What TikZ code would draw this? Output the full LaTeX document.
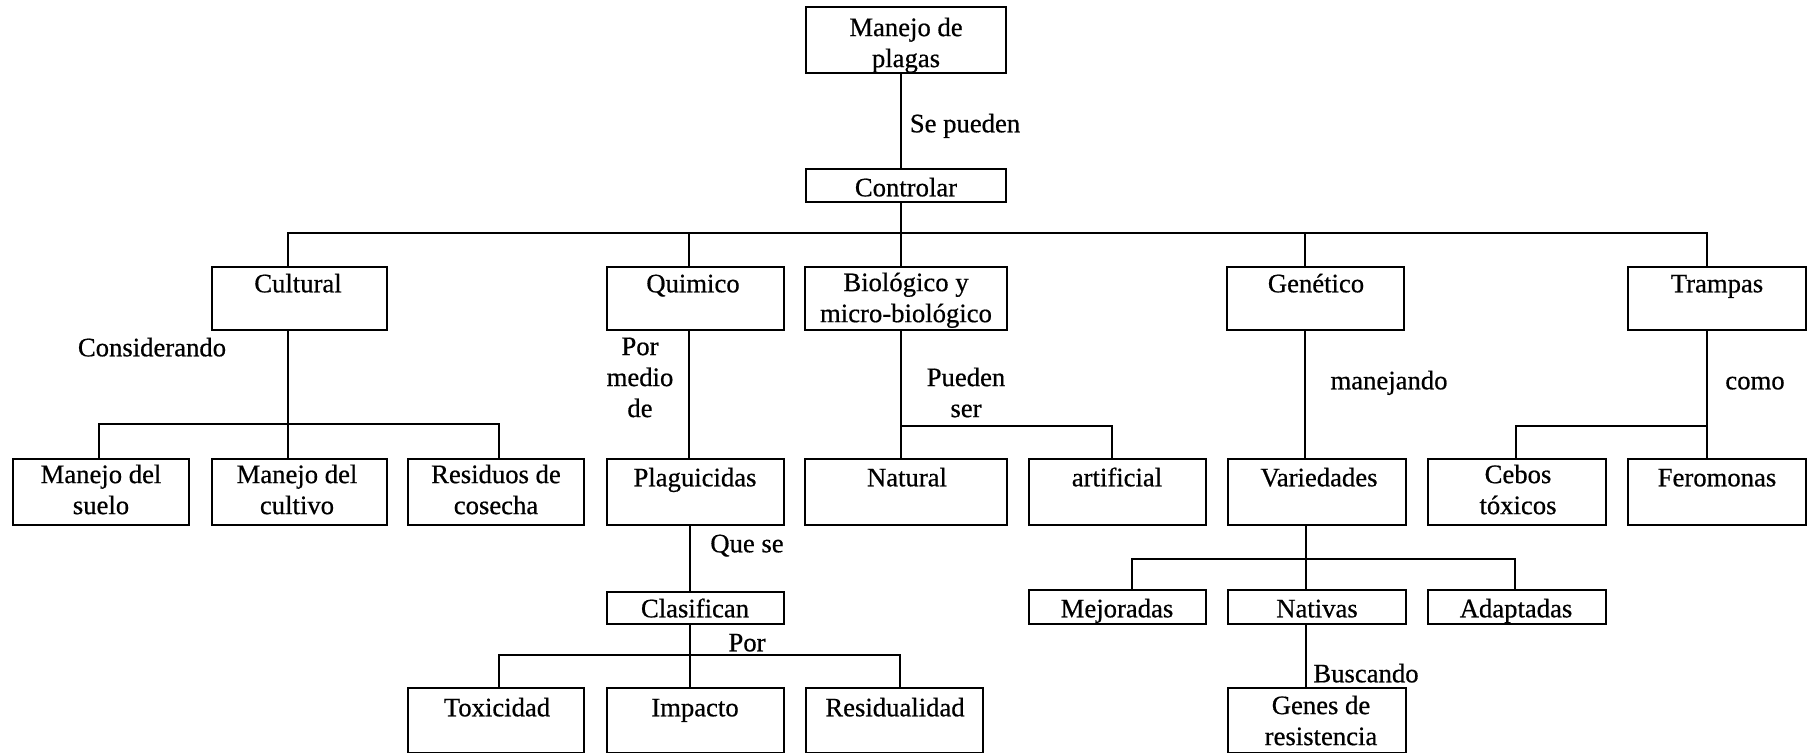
\documentclass[tikz,border=0pt]{standalone}
\usepackage{fontspec}
\setmainfont{Liberation Serif}[FakeBold=0.6]
\begin{document}
\begin{tikzpicture}[x=0.75pt,y=-0.75pt,
  box/.style={draw, line width=1.5pt, anchor=north west, inner sep=0pt, outer sep=0pt},
  txt/.style={anchor=north, yshift=9.5pt, inner sep=0pt, align=center,
    font=\fontsize{20}{23.25}\selectfont, execute at begin node=\strut},
  conn/.style={line width=1.5pt}]
% page frame
\useasboundingbox (0,0) rectangle (1814,753);
\fill[white] (0,0) rectangle (1814,753);
\clip (0,0) rectangle (1814,753);

% box from its two corners: name, x1, y1, x2, y2
\newcommand\mkbox[5]{\node[box, minimum width={(#4-#2)*0.75pt}, minimum height={(#5-#3)*0.75pt}] (#1) at (#2,#3) {};}

% ---- boxes
\mkbox{manejo}{806}{7}{1006}{73}
\mkbox{controlar}{806}{169}{1006}{202}
\mkbox{cultural}{212}{267}{387}{330}
\mkbox{quimico}{607}{267}{784}{330}
\mkbox{bio}{805}{267}{1007}{330}
\mkbox{genetico}{1227}{267}{1404}{330}
\mkbox{trampas}{1628}{267}{1806}{330}
\mkbox{suelo}{13}{459}{189}{525}
\mkbox{cultivo}{212}{459}{387}{525}
\mkbox{residuos}{408}{459}{584}{525}
\mkbox{plaguicidas}{607}{459}{784}{525}
\mkbox{natural}{805}{459}{1007}{525}
\mkbox{artificial}{1029}{459}{1206}{525}
\mkbox{variedades}{1228}{459}{1406}{525}
\mkbox{cebos}{1428}{459}{1606}{525}
\mkbox{feromonas}{1628}{459}{1806}{525}
\mkbox{clasifican}{607}{592}{784}{624}
\mkbox{mejoradas}{1029}{590}{1206}{624}
\mkbox{nativas}{1228}{590}{1406}{624}
\mkbox{adaptadas}{1428}{590}{1606}{624}
\mkbox{toxicidad}{408}{688}{584}{753}
\mkbox{impacto}{607}{688}{784}{753}
\mkbox{residualidad}{806}{688}{983}{753}
\mkbox{genes}{1228}{688}{1406}{753}

% ---- box texts
\node[txt] (t-manejo) at (906,30) {Manejo de\\plagas};
\node[txt] (t-controlar) at (906,187) {Controlar};
\node[txt] (t-cultural) at (298,283) {Cultural};
\node[txt] (t-quimico) at (693,283) {Quimico};
\node[txt] (t-bio) at (906,285) {Biológico y\\micro-biológico};
\node[txt] (t-genetico) at (1316,283) {Genético};
\node[txt] (t-trampas) at (1717,283) {Trampas};
\node[txt] (t-suelo) at (101,477) {Manejo del\\suelo};
\node[txt] (t-cultivo) at (297,477) {Manejo del\\cultivo};
\node[txt] (t-residuos) at (496,477) {Residuos de\\cosecha};
\node[txt] (t-plaguicidas) at (695,477) {Plaguicidas};
\node[txt] (t-natural) at (907,477) {Natural};
\node[txt] (t-artificial) at (1117,477) {artificial};
\node[txt] (t-variedades) at (1319,477) {Variedades};
\node[txt] (t-cebos) at (1518,477) {Cebos\\tóxicos};
\node[txt] (t-feromonas) at (1717,477) {Feromonas};
\node[txt] (t-clasifican) at (695,608) {Clasifican};
\node[txt] (t-mejoradas) at (1117,608) {Mejoradas};
\node[txt] (t-nativas) at (1317,608) {Nativas};
\node[txt] (t-adaptadas) at (1516,608) {Adaptadas};
\node[txt] (t-toxicidad) at (497,707) {Toxicidad};
\node[txt] (t-impacto) at (695,707) {Impacto};
\node[txt] (t-residualidad) at (895,707) {Residualidad};
\node[txt] (t-genes) at (1321,708) {Genes de\\resistencia};

% ---- connector labels
\node[txt] (l-sepueden) at (965,123) {Se pueden};
\node[txt] (l-considerando) at (152,347) {Considerando};
\node[txt] (l-pormedio) at (640,350) {Por\\medio\\de};
\node[txt] (l-pueden) at (966,380) {Pueden\\ser};
\node[txt] (l-manejando) at (1389,380) {manejando};
\node[txt] (l-como) at (1755,380) {como};
\node[txt] (l-quese) at (747,543) {Que se};
\node[txt] (l-por) at (747,642) {Por};
\node[txt] (l-buscando) at (1366,673) {Buscando};

% ---- junction points
\coordinate (b0) at (901,233);
\coordinate (busL) at (288,233);
\coordinate (busQ) at (689,233);
\coordinate (busG) at (1305,233);
\coordinate (busR) at (1707,233);
\coordinate (cj) at (288,424);
\coordinate (cl) at (99,424);
\coordinate (cr) at (499,424);
\coordinate (bj) at (901,426);
\coordinate (br) at (1112,426);
\coordinate (tj) at (1707,426);
\coordinate (tl) at (1516,426);
\coordinate (px) at (690,655);
\coordinate (pl) at (499,655);
\coordinate (pr) at (900,655);
\coordinate (vx) at (1306,559);
\coordinate (vl) at (1132,559);
\coordinate (vr) at (1515,559);

% ---- connectors
\draw[conn] (manejo.south -| b0) -- (controlar.north -| b0);
\draw[conn] (controlar.south -| b0) -- (b0);
\draw[conn] (cultural.north -| busL) -- (busL) -- (busR) -- (trampas.north -| busR);
\draw[conn] (quimico.north -| busQ) -- (busQ);
\draw[conn] (bio.north -| b0) -- (b0);
\draw[conn] (genetico.north -| busG) -- (busG);

\draw[conn] (cultural.south -| cj) -- (cultivo.north -| cj);
\draw[conn] (suelo.north -| cl) -- (cl) -- (cr) -- (residuos.north -| cr);

\draw[conn] (quimico.south -| busQ) -- (plaguicidas.north -| busQ);

\draw[conn] (bio.south -| bj) -- (natural.north -| bj);
\draw[conn] (bj) -- (br) -- (artificial.north -| br);

\draw[conn] (genetico.south -| busG) -- (variedades.north -| busG);

\draw[conn] (trampas.south -| tj) -- (feromonas.north -| tj);
\draw[conn] (tj) -- (tl) -- (cebos.north -| tl);

\draw[conn] (plaguicidas.south -| px) -- (clasifican.north -| px);
\draw[conn] (clasifican.south -| px) -- (impacto.north -| px);
\draw[conn] (toxicidad.north -| pl) -- (pl) -- (pr) -- (residualidad.north -| pr);

\draw[conn] (variedades.south -| vx) -- (nativas.north -| vx);
\draw[conn] (mejoradas.north -| vl) -- (vl) -- (vr) -- (adaptadas.north -| vr);
\draw[conn] (nativas.south -| vx) -- (genes.north -| vx);
\end{tikzpicture}
\end{document}
